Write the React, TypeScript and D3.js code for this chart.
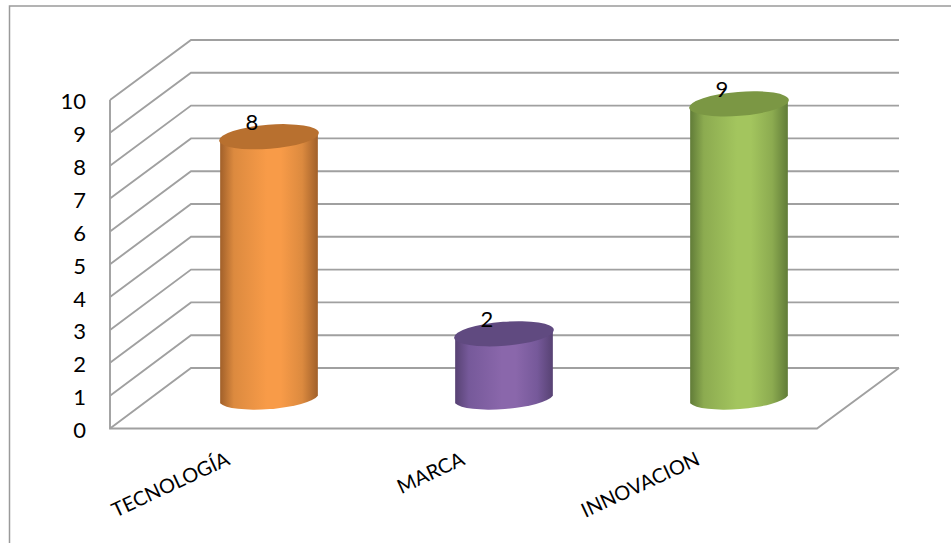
import React from "react";
import * as d3 from "d3";

const categories = ["TECNOLOGÍA", "MARCA", "INNOVACION"];
const values = [8, 2, 9];
const axisTicks = [0, 1, 2, 3, 4, 5, 6, 7, 8, 9, 10];
const barColors = [
  { id: "orange", edge: "#a1602a", soft: "#dc8a3f", mid: "#f89b48", top: "#b8702f" },
  { id: "purple", edge: "#574273", soft: "#76599a", mid: "#8a67ab", top: "#604a80" },
  { id: "green", edge: "#617c38", soft: "#8cab50", mid: "#a3c55e", top: "#7b9744" },
];

const WIDTH = 951;
const HEIGHT = 543;
const GRID = "#a0a0a0";
const FONT = "Lato, Carlito, sans-serif";

// Floor and wall corners of the oblique 3D box.
const FRONT_LEFT = 110;
const FRONT_RIGHT = 817;
const BACK_LEFT = 191;
const BACK_RIGHT = 899;

const frontY = d3.scaleLinear().domain([0, 10]).range([428.5, 100]);
const backY = d3.scaleLinear().domain([0, 10]).range([368, 40]);
// Bars stand halfway between the front edge and the back wall.
const midY = d3.scaleLinear().domain([0, 10]).range([399.5, 71]);
const xBand = d3.scaleBand().domain(categories).range([151.5, 856.5]);

const BAR_W = 98;
const RX = 50;
const RY = 12;
const TILT = -4.5;

export default function App() {
  return (
    <svg
      width={WIDTH}
      height={HEIGHT}
      style={{ position: "absolute", left: 0, top: 0, background: "#fff" }}
    >
      <defs>
        {barColors.map((c) => (
          <linearGradient key={c.id} id={`body-${c.id}`} x1="0" x2="1" y1="0" y2="0">
            <stop offset="0" stopColor={c.edge} />
            <stop offset="0.14" stopColor={c.soft} />
            <stop offset="0.48" stopColor={c.mid} />
            <stop offset="0.62" stopColor={c.mid} />
            <stop offset="0.84" stopColor={c.soft} />
            <stop offset="1" stopColor={c.edge} />
          </linearGradient>
        ))}
      </defs>

      {/* outer frame: top and left edges only */}
      <path d={`M9.5,${HEIGHT}V6H${WIDTH}`} fill="none" stroke="#9a9a9a" strokeWidth={1.5} />

      {/* side-wall diagonals and back-wall gridlines */}
      <g fill="none" stroke={GRID} strokeWidth={1.9}>
        {axisTicks.map((t) => (
          <path
            key={t}
            d={`M${FRONT_LEFT},${frontY(t)}L${BACK_LEFT},${backY(t)}L${BACK_RIGHT},${backY(t)}`}
          />
        ))}
        <path d={`M${FRONT_LEFT},${frontY(10)}L${FRONT_LEFT},${frontY(0)}L${FRONT_RIGHT},${frontY(0)}L${BACK_RIGHT},${backY(0)}`} />
      </g>

      {axisTicks.map((t) => (
        <text
          key={t}
          x={86}
          y={frontY(t) + 1.5}
          dy="0.36em"
          textAnchor="end"
          fontFamily={FONT}
          fontSize={22}
          fill="#000"
        >
          {t}
        </text>
      ))}

      {categories.map((cat, i) => {
        const cx = xBand(cat)! + xBand.bandwidth() / 2;
        const c = barColors[i];
        const topY = midY(values[i]);
        const baseY = midY(0);
        const rad = (TILT * Math.PI) / 180;
        const dx = (BAR_W / 2) * Math.cos(rad);
        const dy = (BAR_W / 2) * Math.sin(rad);
        const body = `M${cx - dx},${topY - dy}L${cx - dx},${baseY - dy}A${RX},${RY} ${TILT} 0 0 ${cx + dx},${baseY + dy}L${cx + dx},${topY + dy}Z`;
        return (
          <g key={cat}>
            <path d={body} fill={`url(#body-${c.id})`} />
            <ellipse
              cx={cx}
              cy={topY}
              rx={RX}
              ry={RY}
              fill={c.top}
              transform={`rotate(${TILT} ${cx} ${topY})`}
            />
            <text
              x={cx - 17}
              y={topY - 7}
              textAnchor="middle"
              fontFamily={FONT}
              fontSize={22}
              fill="#000"
            >
              {values[i]}
            </text>
            <text
              transform={`translate(${cx - 38},${464}) rotate(-25)`}
              textAnchor="end"
              fontFamily={FONT}
              fontSize={20}
              fill="#000"
            >
              {cat}
            </text>
          </g>
        );
      })}
    </svg>
  );
}
